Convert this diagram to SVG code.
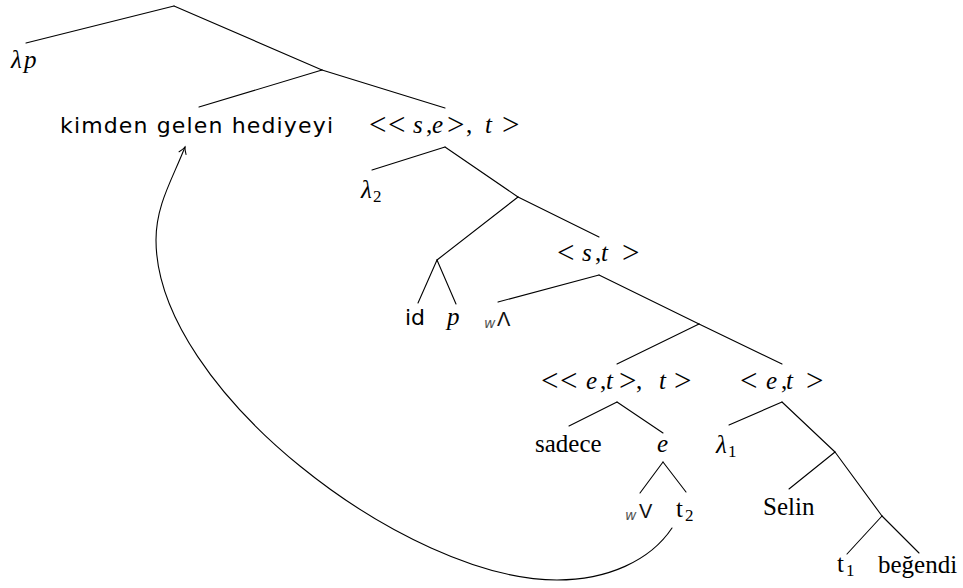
<svg xmlns="http://www.w3.org/2000/svg" width="963" height="588" viewBox="0 0 963 588">
<style>
.e{stroke:#000;stroke-width:1.1;fill:none;stroke-linecap:round}
text{font-family:"Liberation Serif","DejaVu Serif",serif;font-size:25px;fill:#000}
.i{font-style:italic}
.r{font-size:31px;font-style:normal}
.ss{font-family:"DejaVu Sans","Liberation Sans",sans-serif;font-size:22px}
.op{font-family:"Liberation Sans","DejaVu Sans",sans-serif;font-size:20px;font-style:normal;fill:#111}
.sub{font-size:17px;font-style:normal}
.w{font-family:"DejaVu Sans","Liberation Sans",sans-serif;font-style:italic;font-size:14px;fill:#555}
</style>
<defs>
<marker id="arr" markerUnits="userSpaceOnUse" markerWidth="12" markerHeight="12" viewBox="-9 -6 12 12" refX="0" refY="0" orient="auto">
<path d="M-7,-4 Q-3,-1 0,0 Q-3,1 -7,4" fill="none" stroke="#000" stroke-width="1"/>
</marker>
</defs>
<rect width="963" height="588" fill="#fff"/>
<g id="connectors">
<line class="e" x1="174" y1="6" x2="26" y2="43"/>
<line class="e" x1="174" y1="6" x2="322" y2="70"/>
<line class="e" x1="322" y1="70" x2="199" y2="107"/>
<line class="e" x1="322" y1="70" x2="445" y2="108"/>
<line class="e" x1="445" y1="147" x2="372" y2="170"/>
<line class="e" x1="445" y1="147" x2="518" y2="197"/>
<line class="e" x1="518" y1="197" x2="437" y2="260"/>
<line class="e" x1="518" y1="197" x2="599" y2="237"/>
<line class="e" x1="437" y1="260" x2="418" y2="303"/>
<line class="e" x1="437" y1="260" x2="456" y2="304"/>
<line class="e" x1="599" y1="275" x2="498" y2="302"/>
<line class="e" x1="599" y1="275" x2="699" y2="324"/>
<line class="e" x1="699" y1="324" x2="617" y2="364"/>
<line class="e" x1="699" y1="324" x2="782" y2="364"/>
<line class="e" x1="617" y1="402" x2="569" y2="426"/>
<line class="e" x1="617" y1="402" x2="663" y2="433"/>
<line class="e" x1="782" y1="402" x2="729" y2="425"/>
<line class="e" x1="782" y1="402" x2="835" y2="452"/>
<line class="e" x1="835" y1="452" x2="789" y2="489"/>
<line class="e" x1="835" y1="452" x2="882" y2="516"/>
<line class="e" x1="882" y1="516" x2="847" y2="554"/>
<line class="e" x1="882" y1="516" x2="919" y2="553"/>
<line class="e" x1="663" y1="462" x2="640" y2="493"/>
<line class="e" x1="663" y1="462" x2="686" y2="492"/>
<path class="e" d="M672,528 C650,561 607,580 557,580 C407,580 156,390 156,240 C156,205 172,180 185,147" marker-end="url(#arr)"/>
</g>
<g id="n-lp"><text class="i" x="11 24" y="68">λp</text></g>
<g id="n-kimden"><text class="ss" x="60" y="133" textLength="273" lengthAdjust="spacing">kimden gelen hediyeyi</text></g>
<g id="n-sett"><text y="133"><tspan class="r" x="369" y="135">&lt;</tspan><tspan class="r" x="388" y="135">&lt;</tspan><tspan class="i" x="413" y="133">s</tspan><tspan x="426">,</tspan><tspan class="i" x="432">e</tspan><tspan class="r" x="447" y="135">&gt;</tspan><tspan x="466" y="133">,</tspan><tspan class="i" x="485">t</tspan><tspan class="r" x="502" y="135">&gt;</tspan></text></g>
<g id="n-l2"><text class="i" x="361" y="198">λ<tspan class="sub" x="373" y="202">2</tspan></text></g>
<g id="n-st"><text y="261"><tspan class="r" x="557" y="263">&lt;</tspan><tspan class="i" x="582" y="261">s</tspan><tspan x="595">,</tspan><tspan class="i" x="601">t</tspan><tspan class="r" x="622" y="263">&gt;</tspan></text></g>
<g id="n-id"><text class="ss" x="405" y="325">id</text></g>
<g id="n-p"><text class="i" x="447" y="325">p</text></g>
<g id="n-wedge"><text x="484" y="328"><tspan class="w">w</tspan><tspan class="op" x="497" y="326">Λ</tspan></text></g>
<g id="n-ettt"><text y="389"><tspan class="r" x="541" y="391">&lt;</tspan><tspan class="r" x="560" y="391">&lt;</tspan><tspan class="i" x="586" y="389">e</tspan><tspan x="600">,</tspan><tspan class="i" x="606">t</tspan><tspan class="r" x="619" y="391">&gt;</tspan><tspan x="636" y="389">,</tspan><tspan class="i" x="659">t</tspan><tspan class="r" x="674" y="391">&gt;</tspan></text></g>
<g id="n-et"><text y="389"><tspan class="r" x="740" y="391">&lt;</tspan><tspan class="i" x="766" y="389">e</tspan><tspan x="781">,</tspan><tspan class="i" x="786">t</tspan><tspan class="r" x="806" y="391">&gt;</tspan></text></g>
<g id="n-sadece"><text x="535" y="452">sadece</text></g>
<g id="n-e"><text class="i" x="657" y="452">e</text></g>
<g id="n-l1"><text class="i" x="716" y="453">λ<tspan class="sub" x="728" y="457">1</tspan></text></g>
<g id="n-vee"><text x="625" y="520"><tspan class="w">w</tspan><tspan class="op" x="639" y="518">V</tspan></text></g>
<g id="n-t2"><text x="676" y="517">t<tspan class="sub" x="685" y="521">2</tspan></text></g>
<g id="n-selin"><text x="763" y="515">Selin</text></g>
<g id="n-t1"><text x="837" y="572">t<tspan class="sub" x="846" y="576">1</tspan></text></g>
<g id="n-begendi"><text x="878" y="573">beğendi</text></g>
</svg>
